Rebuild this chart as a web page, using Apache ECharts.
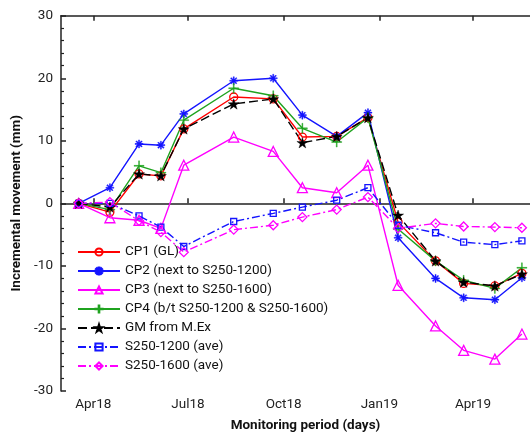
<!DOCTYPE html>
<html>
<head>
<meta charset="utf-8">
<script src="https://cdn.jsdelivr.net/npm/echarts@6/dist/echarts.min.js"></script>
<style>
html,body{margin:0;padding:0;background:#fff;}
#c{width:530px;height:432px;}
</style>
</head>
<body>
<div id="c"></div>
<script>
// ---- data ----
const dates = ['2018-03-18','2018-04-17','2018-05-15','2018-06-05','2018-06-27','2018-08-14','2018-09-21','2018-10-19','2018-11-21','2018-12-21','2019-01-19','2019-02-24','2019-03-23','2019-04-22','2019-05-18'];
const cp1 = [0, -1.4, 4.7, 4.4, 11.9, 17.0, 16.7, 10.6, 10.7, 13.7, -3.0, -9.2, -12.8, -13.2, -11.2];
const cp2 = [0, 2.5, 9.5, 9.3, 14.3, 19.6, 20.0, 14.1, 10.7, 14.5, -5.5, -12.0, -15.1, -15.4, -11.9];
const cp3 = [0, -2.3, -2.7, -4.0, 6.1, 10.6, 8.3, 2.5, 1.7, 6.1, -13.1, -19.6, -23.5, -24.9, -20.9];
const cp4 = [0, -1.0, 6.0, 4.9, 13.3, 18.4, 17.2, 12.0, 9.8, 13.7, -4.1, -9.2, -12.3, -13.6, -10.3];
const gm = [0, -0.6, 4.7, 4.4, 11.9, 15.9, 16.7, 9.7, 10.7, 13.7, -1.9, -9.2, -12.6, -13.2, -11.3];
const s1200 = [0, 0, -2.0, -3.8, -6.9, -2.9, -1.6, -0.6, 0.5, 2.5, -3.5, -4.7, -6.2, -6.6, -6.0];
const s1600 = [0, 0.2, -2.8, -4.6, -7.8, -4.2, -3.5, -2.2, -1.0, 1.0, -4.0, -3.2, -3.7, -3.8, -3.9];
const seriesNames = ['CP1 (GL)','CP2 (next to S250-1200)','CP3 (next to S250-1600)','CP4 (b/t S250-1200 & S250-1600)','GM from M.Ex','S250-1200 (ave)','S250-1600 (ave)'];
const tickDates = ['2018-04-01','2018-07-01','2018-10-01','2019-01-01','2019-04-01'];
const tickLabels = ['Apr18','Jul18','Oct18','Jan19','Apr19'];
const xRange = ['2018-03-01','2019-06-14'];
const yTicks = [-30, -20, -10, 0, 10, 20, 30];

// ---- helpers ----
const ts = d => Date.parse(d + 'T00:00:00Z');
const tickTs = tickDates.map(ts);
const pair = arr => arr.map((v, i) => [ts(dates[i]), v]);
const FONT = 'Roboto';

const STAR = 'path://M0,-1L0.2245,-0.309L0.951,-0.309L0.363,0.118L0.588,0.809L0,0.382L-0.588,0.809L-0.363,0.118L-0.951,-0.309L-0.2245,-0.309Z';
const PLUS = 'path://M-0.09,-1H0.09V-0.09H1V0.09H0.09V1H-0.09V0.09H-1V-0.09H-0.09Z';
const AST = 'path://M-1,-0.14L1,-0.14L1,0.14L-1,0.14Z M-0.14,-1L0.14,-1L0.14,1L-0.14,1Z M-0.607,-0.807L0.807,0.607L0.607,0.807L-0.807,-0.607Z M0.607,-0.807L0.807,-0.607L-0.607,0.807L-0.807,0.607Z';

const RED = '#ff0000', BLUE = '#1414ff', MAG = '#ff00ff', GREEN = '#1fa31f', BLACK = '#000000';

function mk(name, data, color, symbol, size, open, dash) {
  return {
    name: name, type: 'line', data: pair(data),
    symbol: symbol, symbolSize: size, symbolKeepAspect: true,
    lineStyle: { color: color, width: 1.4, type: dash || 'solid' },
    itemStyle: { color: open ? 'rgba(255,255,255,0)' : color, borderColor: color, borderWidth: open ? 1.3 : 0.4 },
    emphasis: { disabled: true },
    animation: false, z: 2
  };
}

const series = [
  mk(seriesNames[0], cp1, RED, 'circle', 8, true),
  mk(seriesNames[1], cp2, BLUE, AST, 8, false),
  mk(seriesNames[2], cp3, MAG, 'triangle', 10, true),
  mk(seriesNames[3], cp4, GREEN, PLUS, 10, false),
  mk(seriesNames[4], gm, BLACK, STAR, 11, false, [9, 4]),
  mk(seriesNames[5], s1200, BLUE, 'rect', 6, true, [8, 3, 2, 3]),
  mk(seriesNames[6], s1600, MAG, 'diamond', 9, true, [8, 3, 2, 3])
];

const axisLineStyle = { color: '#222', width: 1.5 };

const option = {
  animation: false,
  backgroundColor: '#fff',
  grid: { left: 61, right: -20, top: 15.7, bottom: 41, containLabel: false, outerBoundsMode: 'none' },
  legend: {
    show: true,
    orient: 'vertical',
    left: 77, top: 245, padding: 0,
    itemWidth: 42, itemHeight: 9, itemGap: 5,
    textStyle: { fontFamily: FONT, fontSize: 13.5, color: '#111', lineHeight: 14 },
    data: seriesNames
  },
  xAxis: [{
    type: 'value', position: 'bottom',
    min: ts(xRange[0]), max: ts(xRange[1]),
    name: 'Monitoring period (days)', nameLocation: 'middle', nameGap: 28,
    nameTextStyle: { fontFamily: FONT, fontSize: 13.5, fontWeight: 'bold', color: '#111' },
    axisLine: { show: true, lineStyle: axisLineStyle },
    axisTick: { show: true, inside: true, length: 5, lineStyle: axisLineStyle, customValues: tickTs },
    axisLabel: { show: true, margin: 7, fontFamily: FONT, fontSize: 13.5, color: '#222', customValues: tickTs,
      formatter: v => { const i = tickTs.indexOf(v); return i >= 0 ? tickLabels[i] : ''; } },
    splitLine: { show: false }
  }, {
    type: 'value', position: 'top',
    min: ts(xRange[0]), max: ts(xRange[1]),
    axisLine: { show: true, lineStyle: axisLineStyle },
    axisTick: { show: true, inside: true, length: 5, lineStyle: axisLineStyle, customValues: tickTs },
    axisLabel: { show: false },
    splitLine: { show: false }
  }],
  yAxis: {
    type: 'value', min: yTicks[0], max: yTicks[yTicks.length - 1], interval: 10,
    name: 'Incremental movement (mm)', nameLocation: 'middle', nameGap: 23, nameRotate: 90,
    nameTextStyle: { fontFamily: FONT, fontSize: 13.5, fontWeight: 'bold', color: '#111' },
    axisLine: { show: true, lineStyle: axisLineStyle },
    axisTick: { show: true, inside: true, length: 5, lineStyle: axisLineStyle },
    minorTick: { show: true, splitNumber: 5, length: 3, lineStyle: { color: '#222', width: 1.2 } },
    axisLabel: { margin: 8, fontFamily: FONT, fontSize: 13.5, color: '#222' },
    splitLine: { show: false }
  },
  series: series
};

const chart = echarts.init(document.getElementById('c'), null, { renderer: 'canvas' });
chart.setOption(option);
</script>
</body>
</html>
